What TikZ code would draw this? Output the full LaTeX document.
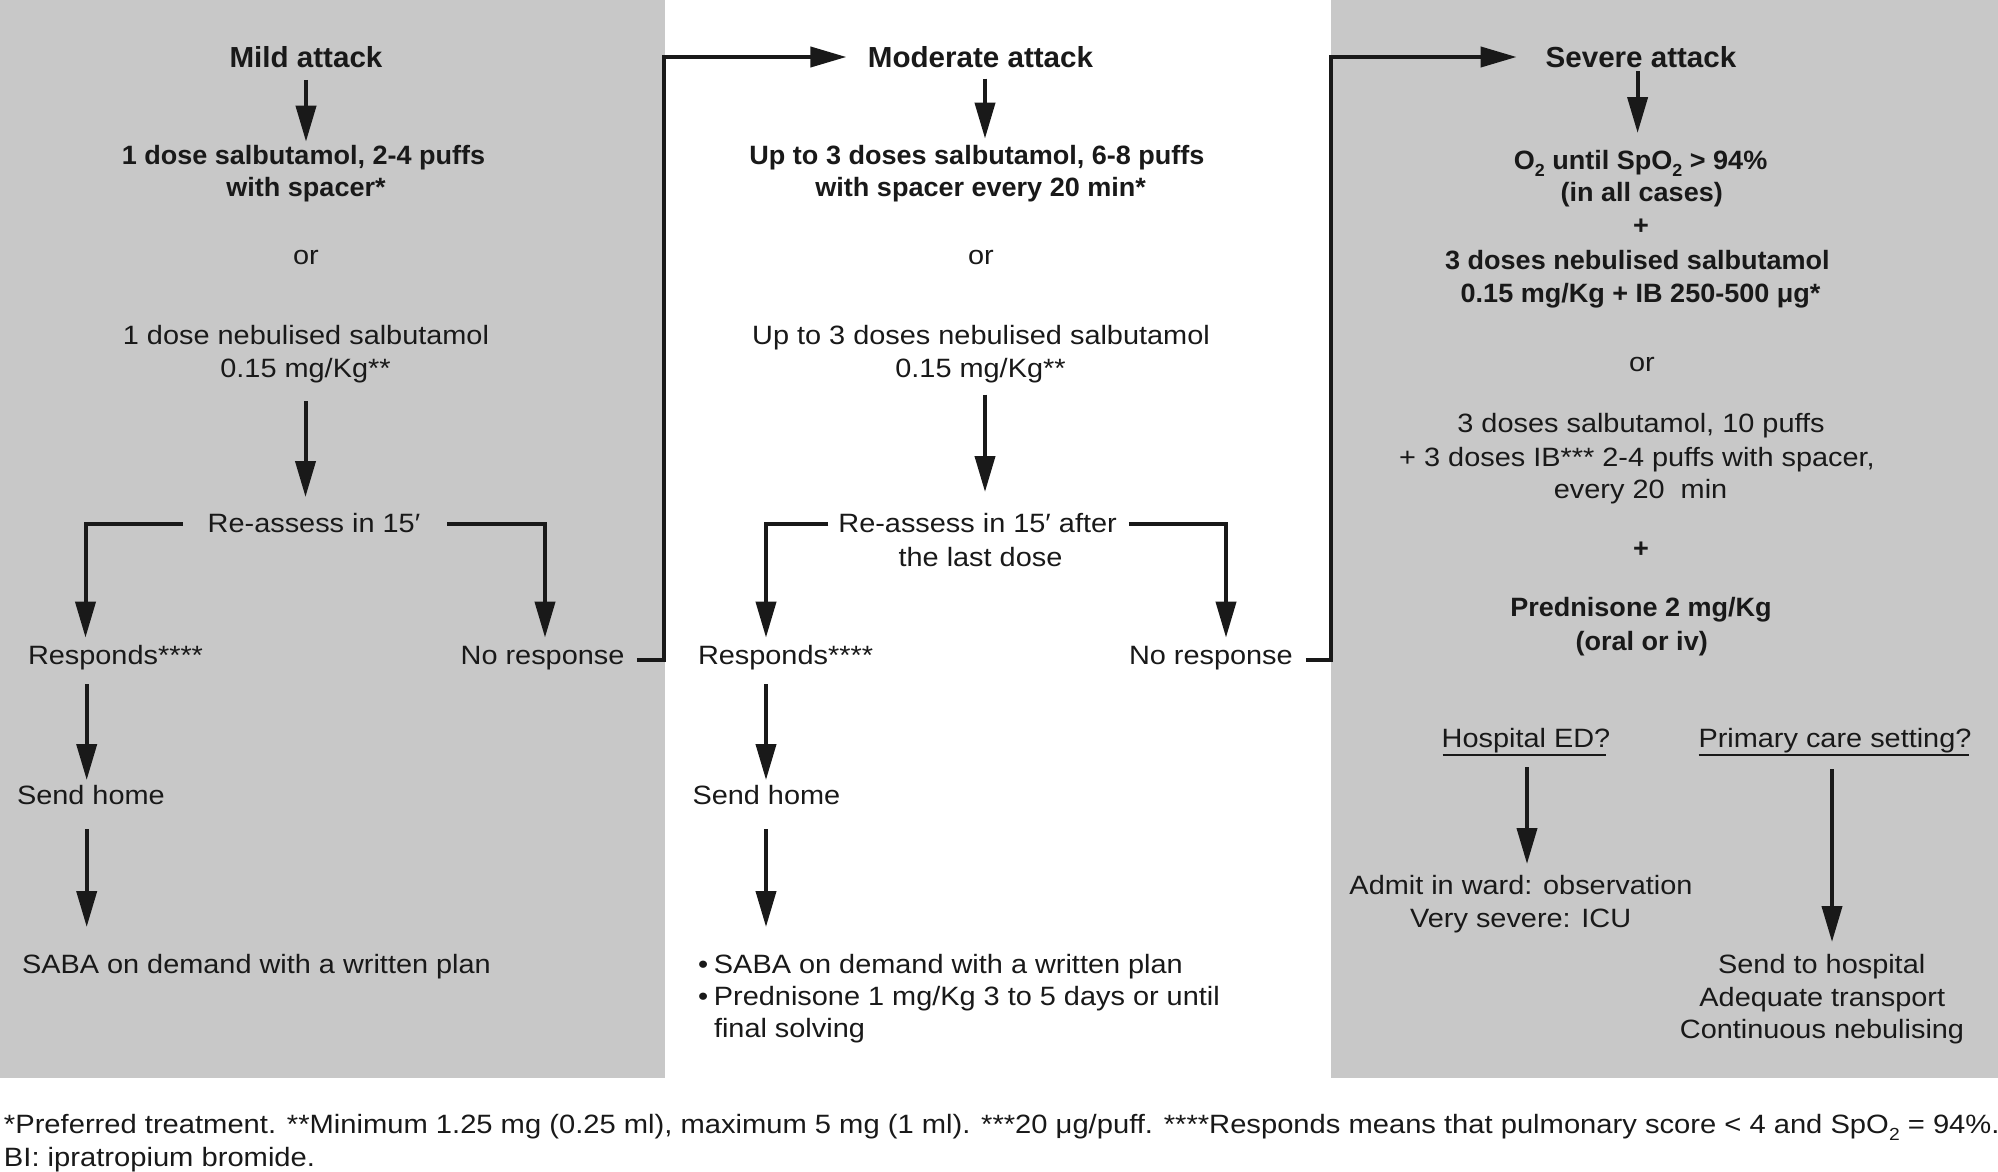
\documentclass[tikz,border=0pt]{standalone}
\usepackage{fontspec}
\setmainfont{Liberation Sans}[FakeStretch=1.09]
\newfontfamily\bfam{Liberation Sans}[FakeStretch=1.02]
\newfontfamily\ffam{Liberation Sans}[FakeStretch=1.1]
\usetikzlibrary{arrows.meta,calc}
\definecolor{panel}{RGB}{200,200,200}
\definecolor{ink}{RGB}{25,25,25}
\newcommand{\sbtwo}{\raisebox{-7pt}{\fontsize{17.5}{17.5}\selectfont 2}}
\begin{document}
\begin{tikzpicture}[x=1pt,y=-1pt,
  every node/.style={inner sep=0pt, outer sep=0pt, text=ink, text height=20pt, text depth=6pt},
  rt/.style={font=\fontsize{26.5}{32}\selectfont, anchor=base},
  rtl/.style={rt, anchor=base west},
  ftl/.style={font=\ffam\fontsize{26.5}{32}\selectfont, anchor=base west},
  bt/.style={font=\bfam\bfseries\fontsize{26.5}{32}\selectfont, anchor=base},
  ttl/.style={font=\bfam\bfseries\fontsize{29}{34}\selectfont, anchor=base},
  conn/.style={draw=ink, line width=4pt, line join=miter},
  arr/.style={conn, -{Triangle[width=20pt,length=36pt]}},
  uline/.style={draw=ink, line width=2pt}]
\useasboundingbox (0,0) rectangle (1998,1172);
\fill[white] (0,0) rectangle (1998,1172);
\fill[panel] (0,0) rectangle (664.5,1078);
\fill[panel] (1331,0) rectangle (1998,1078);

% ---- mild column
\node[ttl] (mild) at (306,67) {Mild attack};
\node[bt] (d1a) at (303.5,164) {1 dose salbutamol, 2-4 puffs};
\node[bt] (d1b) at (306,196) {with spacer*};
\node[rt] (or1) at (306,264) {or};
\node[rt] (n1a) at (306,344) {1 dose nebulised salbutamol};
\node[rt] (n1b) at (305.5,377) {0.15 mg/Kg**};
\node[rt] (ra1) at (314,532.6) {Re-assess in 15′};
\node[rtl] (resp1) at (28,664.6) {Responds****};
\node[rtl] (nor1) at (460.7,664.6) {No response};
\node[rtl] (home1) at (17,804) {Send home};
\node[rtl] (saba1) at (22,973) {SABA on demand with a written plan};

% ---- moderate column
\node[ttl] (mod) at (980.5,67) {Moderate attack};
\node[bt] (m1a) at (977,164) {Up to 3 doses salbutamol, 6-8 puffs};
\node[bt] (m1b) at (980.7,196) {with spacer every 20 min*};
\node[rt] (or2) at (981,264) {or};
\node[rt] (m2a) at (981,344) {Up to 3 doses nebulised salbutamol};
\node[rt] (m2b) at (980.5,377) {0.15 mg/Kg**};
\node[rt] (ra2a) at (977.6,532.6) {Re-assess in 15′ after};
\node[rt] (ra2b) at (980.5,566) {the last dose};
\node[rtl] (resp2) at (698,664.6) {Responds****};
\node[rtl] (nor2) at (1129,664.6) {No response};
\node[rtl] (home2) at (692.5,804) {Send home};
\node[rtl] (b1) at (698,973) {\makebox[16pt][l]{•}SABA on demand with a written plan};
\node[rtl] (b2) at (698,1005) {\makebox[16pt][l]{•}Prednisone 1 mg/Kg 3 to 5 days or until};
\node[rtl] (b3) at (714,1037) {final solving};

% ---- severe column
\node[ttl] (sev) at (1641,67) {Severe attack};
\node[bt] (s1) at (1640.6,169.6) {O\sbtwo{} until SpO\sbtwo{} > 94\%};
\node[bt] (s2) at (1641.7,201.8) {(in all cases)};
\node[bt] (p1) at (1641,234.5) {+};
\node[bt] (s3) at (1637.4,269.6) {3 doses nebulised salbutamol};
\node[bt] (s4) at (1640.6,302.9) {0.15 mg/Kg + IB 250-500 μg*};
\node[rt] (or3) at (1642,371.4) {or};
\node[rt] (s5) at (1641,432) {3 doses salbutamol, 10 puffs};
\node[rt] (s6) at (1637,466) {+ 3 doses IB*** 2-4 puffs with spacer,};
\node[rt] (s7) at (1640.6,498) {every 20~ min};
\node[bt] (p2) at (1641,557) {+};
\node[bt] (s8) at (1641,616.5) {Prednisone 2 mg/Kg};
\node[bt] (s9) at (1641.7,650) {(oral or iv)};
\node[rt] (hed) at (1526,747) {Hospital ED?};
\node[rt] (pcs) at (1835,747) {Primary care setting?};
\node[rt] (adm1) at (1521,894) {Admit in ward: observation};
\node[rt] (adm2) at (1520.7,927) {Very severe: ICU};
\node[rt] (sh1) at (1821.7,973) {Send to hospital};
\node[rt] (sh2) at (1822.3,1006) {Adequate transport};
\node[rt] (sh3) at (1822,1038) {Continuous nebulising};

% ---- footnotes
\node[ftl] (fn1) at (4,1133) {*Preferred treatment. **Minimum 1.25 mg (0.25 ml), maximum 5 mg (1 ml). ***20 μg/puff. ****Responds means that pulmonary score < 4 and SpO\sbtwo{} = 94\%.};
\node[ftl] (fn2) at (4,1166) {BI: ipratropium bromide.};

% ---- connectors: mild
\draw[arr, shorten <=7pt, shorten >=2.3pt] (mild.south) -- (mild.south |- d1a.north);
\draw[arr, shorten <=18pt, shorten >=15.6pt] (n1b.south) -- (n1b.south |- ra1.north);
\draw[arr, shorten >=7pt] ($(ra1.west)+(-25,-1.6)$) -| ($(resp1.north west)+(57.5,0)$);
\draw[arr, shorten >=7pt] ($(ra1.east)+(27,-1.6)$) -| ($(nor1.north west)+(84.3,0)$);
\draw[arr, shorten <=13.4pt, shorten >=4pt] ($(resp1.south west)+(58.7,0)$) -- ($(resp1.south west |- home1.north)+(58.7,0)$);
\draw[arr, shorten <=19pt, shorten >=26pt] ($(resp1.south west |- home1.south)+(58.7,0)$) -- ($(resp1.south west |- saba1.north)+(58.7,0)$);
\draw[arr, shorten >=21.5pt] ($(nor1.east)+(12.5,2.4)$) -- ++(27,0) |- ($(mod.west)+(0,-3)$);

% ---- connectors: moderate
\draw[arr, shorten <=5.6pt, shorten >=5.4pt] ($(mod.south)+(4.5,0)$) -- ($(mod.south |- m1a.north)+(4.5,0)$);
\draw[arr, shorten <=11.6pt, shorten >=20.6pt] ($(m2b.south)+(4.5,0)$) -- ($(m2b.south |- ra2a.north)+(4.5,0)$);
\draw[arr, shorten >=7pt] ($(ra2a.west)+(-10,-1.6)$) -| ($(resp2.north west)+(68,0)$);
\draw[arr, shorten >=7pt] ($(ra2a.east)+(12,-1.6)$) -| ($(nor2.north west)+(97,0)$);
\draw[arr, shorten <=13.4pt, shorten >=4pt] ($(resp2.south west)+(68,0)$) -- ($(resp2.south west |- home2.north)+(68,0)$);
\draw[arr, shorten <=19pt, shorten >=26pt] ($(resp2.south west |- home2.south)+(68,0)$) -- ($(resp2.south west |- b1.north)+(68,0)$);
\draw[arr, shorten >=29pt] ($(nor2.east)+(13,2.4)$) -- ++(25,0) |- ($(sev.west)+(0,-3)$);

% ---- connectors: severe
\draw[arr, shorten <=-1.6pt, shorten >=16.6pt] ($(sev.south)+(-3.4,0)$) -- ($(sev.south |- s1.north)+(-3.4,0)$);
\draw[uline] ($(hed.base west)+(1,7.5)$) -- ($(hed.base east)+(-4,7.5)$);
\draw[uline] ($(pcs.base west)+(0,7.5)$) -- ($(pcs.base east)+(-2,7.5)$);
\draw[arr, shorten <=14pt, shorten >=10pt] ($(hed.south)+(1,0)$) -- ($(hed.south |- adm1.north)+(1,0)$);
\draw[arr, shorten <=16pt, shorten >=11pt] ($(pcs.south)+(-3,0)$) -- ($(pcs.south |- sh1.north)+(-3,0)$);
\end{tikzpicture}
\end{document}
